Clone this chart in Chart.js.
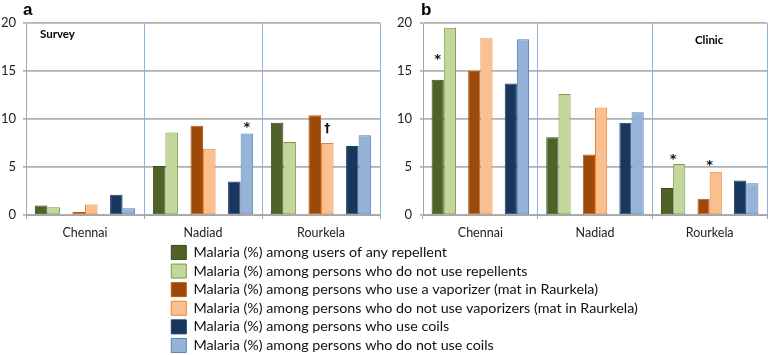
<!DOCTYPE html>
<html><head><meta charset="utf-8">
<script src="https://cdn.jsdelivr.net/npm/chart.js@4.4.1/dist/chart.umd.min.js"></script>
<style>
html,body{margin:0;padding:0;background:#fff;width:778px;height:355px;overflow:hidden}
body{position:relative;font-family:Lato,"Liberation Sans",sans-serif}
canvas{position:absolute;display:block}
.lbl{position:absolute;font-weight:bold;color:#000;line-height:1;white-space:nowrap}
</style></head><body>
<canvas id="ca" width="390" height="245" style="left:0;top:0"></canvas>
<canvas id="cb" width="388" height="245" style="left:390px;top:0"></canvas>
<canvas id="cl" width="540" height="140" style="left:167px;top:241px"></canvas>
<div class="lbl" style="left:23px;top:1px;font-size:17px;font-family:'Liberation Sans',Arial,sans-serif">a</div>
<div class="lbl" style="left:421px;top:1px;font-size:17px;font-family:'Liberation Sans',Arial,sans-serif">b</div>
<div class="lbl" style="left:40px;top:28px;font-size:11.5px">Survey</div>
<div class="lbl" style="left:695px;top:34px;font-size:11.5px">Clinic</div>
<script>
// ---- data ----
const categories = ['Chennai', 'Nadiad', 'Rourkela'];
const seriesNames = [
  'Malaria (%) among users of any repellent',
  'Malaria (%) among persons who do not use repellents',
  'Malaria (%) among persons who use a vaporizer (mat in Raurkela)',
  'Malaria (%) among persons who do not use vaporizers (mat in Raurkela)',
  'Malaria (%) among persons who use coils',
  'Malaria (%) among persons who do not use coils'
];
const yTicks = [0, 5, 10, 15, 20];

// Panel a: Survey
const surveyRepellentUsers = [1.0, 5.1, 9.6];
const surveyNoRepellent    = [0.8, 8.6, 7.6];
const surveyVaporizer      = [0.3, 9.3, 10.4];
const surveyNoVaporizer    = [1.1, 6.9, 7.5];
const surveyCoils          = [2.1, 3.5, 7.2];
const surveyNoCoils        = [0.7, 8.5, 8.3];

// Panel b: Clinic
const clinicRepellentUsers = [14.1, 8.1, 2.8];
const clinicNoRepellent    = [19.5, 12.6, 5.3];
const clinicVaporizer      = [15.0, 6.3, 1.7];
const clinicNoVaporizer    = [18.4, 11.2, 4.5];
const clinicCoils          = [13.7, 9.6, 3.6];
const clinicNoCoils        = [18.3, 10.7, 3.3];

// significance marks: series index, category index, symbol, height (value units)
const surveyMarks = [
  {series: 5, cat: 1, text: '*', value: 9.4, at: 'center'},
  {series: 3, cat: 2, text: '\u2020', value: 9.0, at: 'center'}
];
const clinicMarks = [
  {series: 0, cat: 0, text: '*', value: 16.5, at: 'center'},
  {series: 1, cat: 2, text: '*', value: 6.1, at: 'left'},
  {series: 3, cat: 2, text: '*', value: 5.45, at: 'left'}
];

// ---- styles ----
const fills   = ['#4F6228', '#C3D69B', '#9C4A0A', '#FAC090', '#17375E', '#95B3D7'];
const borders = ['#3A4A1B', '#7C9A45', '#C0580F', '#E8843A', '#1F3F66', '#4F81BD'];
const FONT = 'Lato';
const seriesToDataset = [0, 1, 3, 4, 6, 7];

function buildDatasets(values) {
  const ds = [];
  values.forEach((v, i) => {
    if (i === 2 || i === 4) {
      ds.push({label: '', data: [null, null, null], backgroundColor: 'rgba(0,0,0,0)', borderWidth: 0,
               categoryPercentage: 0.85, barPercentage: 1.0});
    }
    ds.push({label: seriesNames[i], data: v, backgroundColor: fills[i], borderColor: borders[i],
             borderWidth: 1, borderSkipped: false, categoryPercentage: 0.85, barPercentage: 1.0});
  });
  return ds;
}

const marksPlugin = {
  id: 'marks',
  afterDatasetsDraw(chart, args, opts) {
    const ctx = chart.ctx, ys = chart.scales.y;
    ctx.save();
    ctx.fillStyle = '#111';
    ctx.textAlign = 'center';
    ctx.textBaseline = 'middle';
    for (const m of (opts.marks || [])) {
      const bar = chart.getDatasetMeta(seriesToDataset[m.series]).data[m.cat];
      const x = m.at === 'left' ? bar.x - bar.width / 2 : bar.x;
      ctx.font = m.text === '*' ? 'bold 13px "DejaVu Sans"' : 'bold 12px "DejaVu Sans"';
      const dy = m.text === '*' ? 3 : 0;
      ctx.fillText(m.text, x, ys.getPixelForValue(m.value) + dy);
    }
    ctx.restore();
  }
};

function panelOptions(yWidth, padRight, yPad, marks) {
  return {
    responsive: false,
    animation: false,
    layout: {padding: {top: 23, right: padRight, left: 0, bottom: 0}},
    plugins: {legend: {display: false}, tooltip: {enabled: false}, marks: {marks: marks}},
    scales: {
      x: {
        offset: true,
        grid: {
          offset: true,
          color: c => (c.index === 0 || c.index === categories.length) ? 'rgba(0,0,0,0)' : '#8DB3E2',
          lineWidth: 1,
          drawTicks: true, tickLength: 4, tickColor: '#A6A6A6'
        },
        border: {color: '#A6A6A6', width: 1},
        ticks: {color: '#222', font: {family: FONT, size: 12.5}, padding: 6},
        afterFit: s => { s.height = 30; }
      },
      y: {
        min: yTicks[0], max: yTicks[yTicks.length - 1],
        afterBuildTicks: s => { s.ticks = yTicks.map(v => ({value: v})); },
        grid: {color: '#B0B0B0', lineWidth: 1.7, tickLength: 3, tickColor: '#B0B0B0'},
        border: {color: '#A6A6A6', width: 1},
        ticks: {color: '#222', font: {family: FONT, size: 13}, padding: yPad},
        afterFit: s => { s.width = yWidth; }
      }
    }
  };
}

new Chart(document.getElementById('ca'), {
  type: 'bar',
  data: {labels: categories, datasets: buildDatasets([surveyRepellentUsers, surveyNoRepellent, surveyVaporizer, surveyNoVaporizer, surveyCoils, surveyNoCoils])},
  options: panelOptions(26, 10, 7, surveyMarks),
  plugins: [marksPlugin]
});

new Chart(document.getElementById('cb'), {
  type: 'bar',
  data: {labels: categories, datasets: buildDatasets([clinicRepellentUsers, clinicNoRepellent, clinicVaporizer, clinicNoVaporizer, clinicCoils, clinicNoCoils])},
  options: panelOptions(33, 11, 8, clinicMarks),
  plugins: [marksPlugin]
});

new Chart(document.getElementById('cl'), {
  type: 'bar',
  data: {labels: [], datasets: seriesNames.map((n, i) => ({label: n, data: [], backgroundColor: fills[i], borderColor: borders[i], borderWidth: 1}))},
  options: {
    responsive: false,
    animation: false,
    layout: {padding: 0},
    scales: {x: {display: false}, y: {display: false}},
    plugins: {
      tooltip: {enabled: false},
      legend: {
        position: 'left', align: 'start', maxWidth: 540,
        labels: {boxWidth: 15, boxHeight: 14, padding: 4.3, color: '#111', font: {family: FONT, size: 14.3}}
      }
    }
  }
});
</script>
</body></html>
